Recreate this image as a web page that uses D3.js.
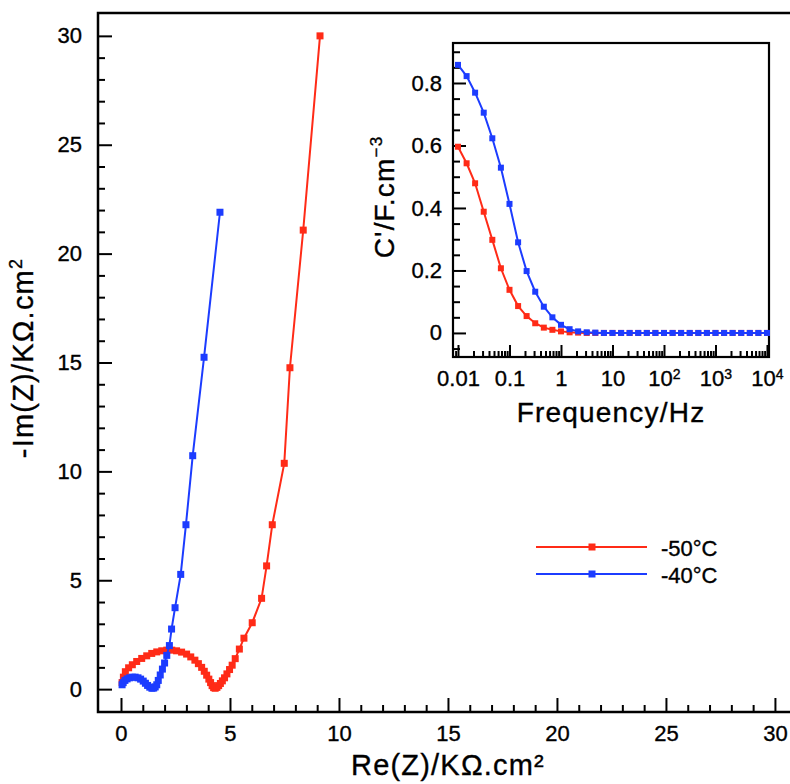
<!DOCTYPE html>
<html><head><meta charset="utf-8">
<script src="https://cdn.jsdelivr.net/npm/d3@7"></script>
<style>
body{margin:0;background:#fff}
text{font-family:"Liberation Sans",Arial,Helvetica,sans-serif;fill:#000;stroke:#000;stroke-width:0.35px}
</style></head><body>
<svg id="c" width="790" height="784"></svg>
<script>
// ---------- DATA ----------
const seriesNames = ["-50°C", "-40°C"];
const seriesColors = ["#ff2b17", "#1c3cff"];

// Nyquist, -50°C
const re50 = [0.05,0.11,0.20,0.35,0.52,0.72,0.95,1.18,1.41,1.64,1.87,2.10,2.33,2.55,2.78,3.01,3.20,3.39,3.55,3.70,3.82,3.93,4.03,4.11,4.18,4.25,4.32,4.40,4.48,4.56,4.65,4.75,4.86,4.98,5.10,5.24,5.43,5.64,6.02,6.45,6.68,6.94,7.49,7.75,8.36,9.13];
const im50 = [0.30,0.55,0.80,0.98,1.12,1.27,1.41,1.53,1.64,1.71,1.76,1.79,1.79,1.76,1.70,1.61,1.48,1.33,1.17,1.00,0.82,0.64,0.46,0.30,0.16,0.07,0.04,0.08,0.16,0.26,0.38,0.52,0.70,0.90,1.10,1.40,1.84,2.34,3.05,4.17,5.66,7.55,10.37,14.76,21.08,30.00];
// Nyquist, -40°C
const re40 = [0.05,0.10,0.18,0.28,0.40,0.52,0.65,0.78,0.90,1.02,1.12,1.22,1.32,1.42,1.50,1.57,1.64,1.71,1.80,1.90,2.00,2.10,2.22,2.32,2.48,2.74,2.98,3.29,3.81,4.54];
const im40 = [0.20,0.30,0.40,0.47,0.52,0.55,0.55,0.52,0.46,0.37,0.27,0.17,0.09,0.04,0.05,0.10,0.20,0.40,0.65,0.92,1.20,1.55,2.00,2.76,3.74,5.27,7.55,10.72,15.24,21.90];

// Inset: C' vs frequency
const freq = [0.01,0.0147,0.0215,0.0316,0.0464,0.0681,0.1,0.147,0.215,0.316,0.464,0.681,1,1.47,2.15,3.16,4.64,6.81,10,14.7,21.5,31.6,46.4,68.1,100,147,215,316,464,681,1000,1470,2150,3160,4640,6810,10000];
const cap50 = [0.596,0.543,0.479,0.388,0.298,0.207,0.138,0.086,0.054,0.031,0.017,0.010,0.005,0.002,0.001,0,0,0,0,0,0,0,0,0,0,0,0,0,0,0,0,0,0,0,0,0,0];
const cap40 = [0.858,0.822,0.769,0.705,0.623,0.529,0.413,0.290,0.198,0.132,0.084,0.050,0.026,0.012,0.005,0.002,0.001,0,0,0,0,0,0,0,0,0,0,0,0,0,0,0,0,0,0,0,0];

// tick labels
const mainXTicks = [0,5,10,15,20,25,30];
const mainYTicks = [0,5,10,15,20,25,30];
const insetXTicks = [0.01,0.1,1,10,100,1000,10000];
const insetXLabels = [["0.01",""],["0.1",""],["1",""],["10",""],["10","2"],["10","3"],["10","4"]];
const insetYTicks = [0,0.2,0.4,0.6,0.8];
const insetYLabels = ["0","0.2","0.4","0.6","0.8"];

// ---------- DRAW ----------
const svg = d3.select("#c");
const F = '"Liberation Sans",Arial,Helvetica,sans-serif';

// main scales
const xs = d3.scaleLinear().domain([-1.055, 31.15]).range([98, 800]);
const ys = d3.scaleLinear().domain([-1.05, 31.05]).range([712, 13]);

function styleAxis(g, fs){
  g.select(".domain").remove();
  g.selectAll(".tick line").attr("stroke","#000").attr("stroke-width",2);
  g.selectAll(".tick text").style("font-size", fs+"px").style("font-family",F);
}

// main minor ticks
svg.append("g").attr("transform","translate(0,712)")
  .call(d3.axisBottom(xs).tickValues(d3.range(0,31).filter(v=>v%5)).tickSize(-7).tickFormat(""))
  .call(g=>styleAxis(g,22));
svg.append("g").attr("transform","translate(98,0)")
  .call(d3.axisLeft(ys).tickValues(d3.range(0,31).filter(v=>v%5)).tickSize(-7).tickFormat(""))
  .call(g=>styleAxis(g,22));
// main major ticks
svg.append("g").attr("transform","translate(0,712)")
  .call(d3.axisBottom(xs).tickValues(mainXTicks).tickSize(-14).tickPadding(13).tickFormat(d3.format("d")))
  .call(g=>styleAxis(g,22));
svg.append("g").attr("transform","translate(98,0)")
  .call(d3.axisLeft(ys).tickValues(mainYTicks).tickSize(-14).tickPadding(16).tickFormat(d3.format("d")))
  .call(g=>styleAxis(g,22));

// main frame
svg.append("rect").attr("x",xs.range()[0]).attr("y",ys.range()[1])
  .attr("width",xs.range()[1]-xs.range()[0]).attr("height",ys.range()[0]-ys.range()[1])
  .attr("fill","none").attr("stroke","#000").attr("stroke-width",2.5);

// main series
const mainSeries = [
  {re:re50, im:im50, c:seriesColors[0]},
  {re:re40, im:im40, c:seriesColors[1]}
];
const line = d3.line().x(d=>xs(d[0])).y(d=>ys(d[1]));
mainSeries.forEach(s=>{
  const pts = s.re.map((r,i)=>[r, s.im[i]]);
  svg.append("path").attr("d", line(pts)).attr("fill","none").attr("stroke",s.c).attr("stroke-width",2);
  svg.append("g").selectAll("rect").data(pts).join("rect")
    .attr("x",d=>xs(d[0])-3.5).attr("y",d=>ys(d[1])-3.5).attr("width",7).attr("height",7).attr("fill",s.c);
});

// main axis titles
svg.append("text").attr("x",448).attr("y",775).attr("text-anchor","middle")
  .style("font-size","29px").style("letter-spacing","1.2px").text("Re(Z)/KΩ.cm²");
const yt = svg.append("text").attr("transform","translate(33,358) rotate(-90)").attr("text-anchor","middle")
  .style("font-size","29px").style("letter-spacing","1.2px");
yt.append("tspan").text("-Im(Z)/KΩ.cm");
yt.append("tspan").attr("dy",-11).style("font-size","18px").text("2");

// legend
const legY = [547, 574];
seriesNames.forEach((n,i)=>{
  svg.append("line").attr("x1",536).attr("x2",647).attr("y1",legY[i]).attr("y2",legY[i])
    .attr("stroke",seriesColors[i]).attr("stroke-width",2);
  svg.append("rect").attr("x",592-3.5).attr("y",legY[i]-3.5).attr("width",7).attr("height",7).attr("fill",seriesColors[i]);
  svg.append("text").attr("x",661).attr("y",legY[i]+9).style("font-size","22px").text(n);
});

// ---------- INSET ----------
const ix = d3.scaleLog().domain([0.008, 10940]).range([453, 769]);
const iy = d3.scaleLinear().domain([-0.077, 0.928]).range([357, 43]);

svg.append("rect").attr("x",453).attr("y",43).attr("width",316).attr("height",314).attr("fill","#fff");

// inset minor ticks
const logMinor = [];
[0.01,0.1,1,10,100,1000].forEach(dec=>{ for(let k=2;k<=9;k++) logMinor.push(dec*k); });
logMinor.push(0.009);
svg.append("g").attr("transform","translate(0,357)")
  .call(d3.axisBottom(ix).tickValues(logMinor).tickSize(-6).tickFormat(""))
  .call(g=>styleAxis(g,22));
svg.append("g").attr("transform","translate(453,0)")
  .call(d3.axisLeft(iy).tickValues([-0.05,0.05,0.1,0.15,0.25,0.3,0.35,0.45,0.5,0.55,0.65,0.7,0.75,0.85,0.9]).tickSize(-7).tickFormat(""))
  .call(g=>styleAxis(g,22));
// inset major
const gx = svg.append("g").attr("transform","translate(0,357)")
  .call(d3.axisBottom(ix).tickValues(insetXTicks).tickSize(-12).tickPadding(13).tickFormat(""))
  .call(g=>styleAxis(g,22));
gx.selectAll(".tick text").each(function(d,i){
  const t = d3.select(this);
  const lab = insetXLabels[i];
  t.append("tspan").text(lab[0]);
  if(lab[1]) t.append("tspan").attr("dy","-0.45em").style("font-size","14px").text(lab[1]);
});
svg.append("g").attr("transform","translate(453,0)")
  .call(d3.axisLeft(iy).tickValues(insetYTicks).tickSize(-13).tickPadding(11).tickFormat((d,i)=>insetYLabels[i]))
  .call(g=>styleAxis(g,22));

svg.append("rect").attr("x",453).attr("y",43).attr("width",316).attr("height",314)
  .attr("fill","none").attr("stroke","#000").attr("stroke-width",2.2);

const iline = d3.line().x(d=>ix(d[0])).y(d=>iy(d[1]));
[cap50, cap40].forEach((vals,si)=>{
  const pts = freq.map((f,i)=>[f, vals[i]]);
  svg.append("path").attr("d", iline(pts)).attr("fill","none").attr("stroke",seriesColors[si]).attr("stroke-width",2);
  svg.append("g").selectAll("rect").data(pts).join("rect")
    .attr("x",d=>ix(d[0])-3).attr("y",d=>iy(d[1])-3).attr("width",6).attr("height",6).attr("fill",seriesColors[si]);
});

svg.append("text").attr("x",611).attr("y",422).attr("text-anchor","middle")
  .style("font-size","28px").style("letter-spacing","1.2px").text("Frequency/Hz");
const ct = svg.append("text").attr("transform","translate(394,197) rotate(-90)").attr("text-anchor","middle")
  .style("font-size","28px").style("letter-spacing","1.2px");
ct.append("tspan").text("C'/F.cm");
ct.append("tspan").attr("dy",-12).style("font-size","17px").text("−3");
</script></body></html>
